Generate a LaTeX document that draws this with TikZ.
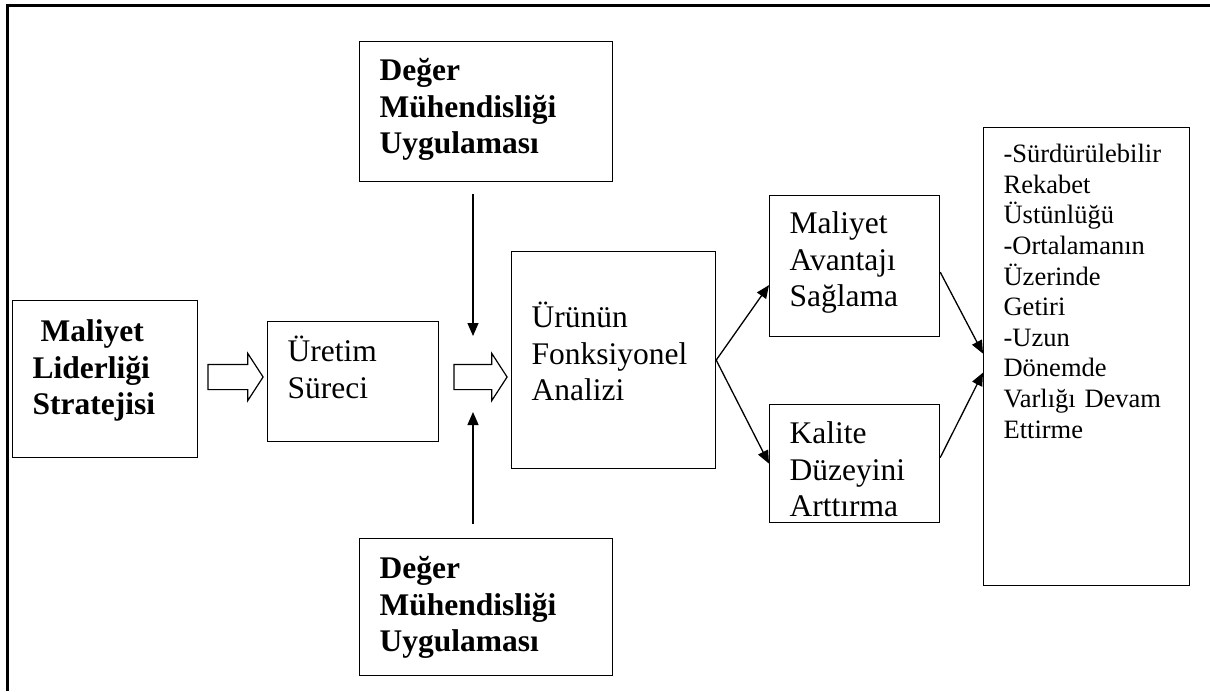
\documentclass[tikz,border=0pt]{standalone}
\usepackage{fontspec}
\setmainfont{Liberation Serif}
\usetikzlibrary{positioning,calc,arrows.meta,shapes.arrows}
\newcommand{\mainsize}{\fontsize{31.5pt}{36.5pt}\selectfont}
\newcommand{\listsize}{\fontsize{26.5pt}{30.6pt}\selectfont}

\begin{document}
\begin{tikzpicture}[
  box/.style={rectangle, draw=black, line width=1.2pt, anchor=north west, inner xsep=20pt, inner ysep=0pt, align=left, font=\mainsize},
  boldbox/.style={box, font=\mainsize\bfseries},
  hollow/.style={single arrow, draw=black, line width=1.2pt, single arrow head extend=11pt, single arrow tip angle=114, inner xsep=0pt, inner ysep=12pt, minimum width=1pt},
  arr/.style={line width=1.3pt, -{Triangle[length=13pt,width=11pt]}}
]
\useasboundingbox (0pt,0pt) rectangle (1210pt,-691pt);
\draw [line width=3pt] (7.5pt,-691pt) |- (1210pt,-5.5pt);

% boxes (text height = first baseline below the top edge)
\node (ml) [boldbox, text width=145pt, minimum height=157pt, text height=41pt, text depth=116pt] at (12pt,-300pt) {\hspace*{8pt}Maliyet\\Liderliği\\Stratejisi};
\node (us) [box, text width=131pt, minimum height=120pt, text height=40pt, text depth=80pt] at (267pt,-321pt) {Üretim\\Süreci};
\node (dma) [boldbox, text width=213pt, minimum height=140pt, text height=39pt, text depth=101pt] at (359pt,-41pt) {Değer\\Mühendisliği\\Uygulaması};
\node (dmb) [boldbox, text width=213pt, minimum height=137pt, text height=40pt, text depth=97pt] at (359pt,-538pt) {Değer\\Mühendisliği\\Uygulaması};
\node (fa) [box, text width=164pt, minimum height=217pt, text height=76pt, text depth=141pt] at (511pt,-251pt) {Ürünün\\Fonksiyonel\\Analizi};
\node (mav) [box, text width=130pt, minimum height=141pt, text height=38pt, text depth=103pt] at (769pt,-195pt) {Maliyet\\Avantajı\\Sağlama};
\node (kd) [box, text width=130pt, minimum height=118pt, text height=39pt, text depth=79pt] at (769pt,-404pt) {Kalite\\Düzeyini\\Arttırma};
\node (res) [box, text width=166pt, minimum height=458pt, text height=35pt, text depth=423pt, font=\listsize] at (983pt,-127pt) {-Sürdürülebilir\\Rekabet\\Üstünlüğü\\-Ortalamanın\\Üzerinde\\Getiri\\-Uzun\\Dönemde\\Varlığı Devam\\Ettirme};

% hollow arrows
\node (ha) [hollow, minimum height=55pt] at (231.5pt,-377pt) {};
\node (hb) [hollow, minimum height=53pt] at (476.5pt,-377pt) {};
\coordinate (jn) at (473pt,-377pt);

% connectors
\draw [arr, shorten <=12pt, shorten >=41pt] (dma.south -| jn) -- (jn);
\draw [arr, shorten <=14pt, shorten >=35pt] (dmb.north -| jn) -- (jn);
\draw [arr] (fa.east) -- ($(mav.west)+(0,-19pt)$);
\draw [arr] (fa.east) -- (kd.west);
\draw [arr] ($(mav.east)+(0,-6pt)$) -- ($(res.west)+(0,3pt)$);
\draw [arr] ($(kd.east)+(0,6pt)$) -- ($(res.west)+(0,-16pt)$);
\end{tikzpicture}
\end{document}
